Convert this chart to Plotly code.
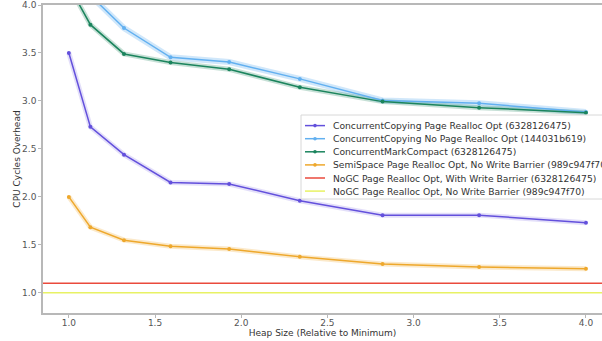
import plotly.graph_objects as go

heap_sizes = [1.0, 1.125, 1.32, 1.59, 1.93, 2.34, 2.82, 3.38, 4.0]

cc_page_realloc = [3.50, 2.73, 2.44, 2.15, 2.135, 1.96, 1.81, 1.81, 1.73]
cc_no_page_realloc = [5.10, 4.10, 3.76, 3.455, 3.405, 3.23, 3.005, 2.975, 2.885]
cmc = [4.20, 3.795, 3.49, 3.40, 3.33, 3.142, 2.993, 2.93, 2.878]
semispace = [2.00, 1.684, 1.549, 1.486, 1.458, 1.375, 1.30, 1.27, 1.25]
nogc_with_wb = 1.10
nogc_no_wb = 1.00

names = [
    "ConcurrentCopying Page Realloc Opt (6328126475)",
    "ConcurrentCopying No Page Realloc Opt (144031b619)",
    "ConcurrentMarkCompact (6328126475)",
    "SemiSpace Page Realloc Opt, No Write Barrier (989c947f70)",
    "NoGC Page Realloc Opt, With Write Barrier (6328126475)",
    "NoGC Page Realloc Opt, No Write Barrier (989c947f70)",
]
has_markers = [True, True, True, True, False, False]
colors = ["#6350dc", "#62b0f0", "#1b845d", "#eea82c", "#ea4a3c", "#e8f264"]
band_colors = ["rgba(99,80,220,0.18)", "rgba(98,176,240,0.30)",
               "rgba(27,132,93,0.25)", "rgba(238,168,44,0.25)"]

X_RANGE = [0.85, 4.093]
Y_RANGE = [0.79, 4.0]

W, H = 602, 341
ML, MR, MT, MB = 43, 0, 5, 28
PW, PH = W - ML - MR, H - MT - MB


def px_x(p):
    return (p - ML) / PW


def px_y(p):
    return (H - MB - p) / PH


fig = go.Figure()

series = [cc_page_realloc, cc_no_page_realloc, cmc, semispace]
for i, ys in enumerate(series):
    fig.add_trace(go.Scatter(x=heap_sizes, y=ys, mode="lines",
                             line=dict(color=band_colors[i], width=5 if i != 1 else 6),
                             showlegend=False, hoverinfo="skip"))
for i, ys in enumerate(series):
    fig.add_trace(go.Scatter(x=heap_sizes, y=ys, mode="lines+markers", name=names[i],
                             line=dict(color=colors[i], width=1.5),
                             marker=dict(color=colors[i], size=4), showlegend=False))

for val, nm, col in [(nogc_with_wb, names[4], colors[4]), (nogc_no_wb, names[5], colors[5])]:
    fig.add_trace(go.Scatter(x=X_RANGE, y=[val, val], mode="lines", name=nm,
                             line=dict(color=col, width=1.5), showlegend=False))

# legend drawn as a box, line samples and text
shapes = []
annotations = []
shapes.append(dict(type="rect", xref="paper", yref="paper",
                   x0=px_x(301), x1=px_x(625), y0=px_y(199), y1=px_y(115),
                   fillcolor="rgba(255,255,255,0.85)", line=dict(color="#d8d8d8", width=1),
                   layer="above"))
for i, nm in enumerate(names):
    cy = 125.6 + 13.1 * i
    shapes.append(dict(type="line", xref="paper", yref="paper",
                       x0=px_x(305), x1=px_x(325), y0=px_y(cy), y1=px_y(cy),
                       line=dict(color=colors[i], width=1.5), layer="above"))
    if has_markers[i]:
        shapes.append(dict(type="circle", xref="paper", yref="paper",
                           xsizemode="pixel", ysizemode="pixel",
                           xanchor=px_x(315), yanchor=px_y(cy),
                           x0=-1.8, x1=1.8, y0=-1.8, y1=1.8,
                           fillcolor=colors[i], line=dict(width=0), layer="above"))
    annotations.append(dict(xref="paper", yref="paper", x=px_x(331), y=px_y(cy),
                            xanchor="left", yanchor="middle", showarrow=False, text=nm,
                            font=dict(family="DejaVu Sans", size=9.2, color="#333333")))

axis_font = dict(family="DejaVu Sans", size=9, color="#555555")
ticks = [1.0, 1.5, 2.0, 2.5, 3.0, 3.5, 4.0]
tick_text = ["1.0", "1.5", "2.0", "2.5", "3.0", "3.5", "4.0"]
fig.update_layout(
    width=W, height=H,
    margin=dict(l=ML, r=MR, t=MT, b=MB, autoexpand=False),
    paper_bgcolor="white", plot_bgcolor="white",
    font=dict(family="DejaVu Sans", size=9, color="#333333"),
    xaxis=dict(range=X_RANGE, showgrid=False, zeroline=False, showline=True,
               linecolor="#b8b8b8", linewidth=1.5, mirror=True,
               ticks="outside", ticklen=3, tickcolor="#b8b8b8",
               tickvals=ticks, ticktext=tick_text, ticklabelstandoff=-3,
               tickfont=axis_font,
               title=dict(text="Heap Size (Relative to Minimum)", standoff=1,
                          font=dict(family="DejaVu Sans", size=9, color="#333333"))),
    yaxis=dict(range=Y_RANGE, showgrid=False, zeroline=False, showline=True,
               linecolor="#b8b8b8", linewidth=1.5, mirror=False,
               ticks="outside", ticklen=3, tickcolor="#b8b8b8",
               tickvals=ticks, ticktext=tick_text,
               tickfont=axis_font,
               title=dict(text="CPU Cycles Overhead", standoff=0,
                          font=dict(family="DejaVu Sans", size=9, color="#333333"))),
    shapes=shapes,
    annotations=annotations,
    showlegend=False,
)

fig.write_html("out.html", config={"displayModeBar": False})
